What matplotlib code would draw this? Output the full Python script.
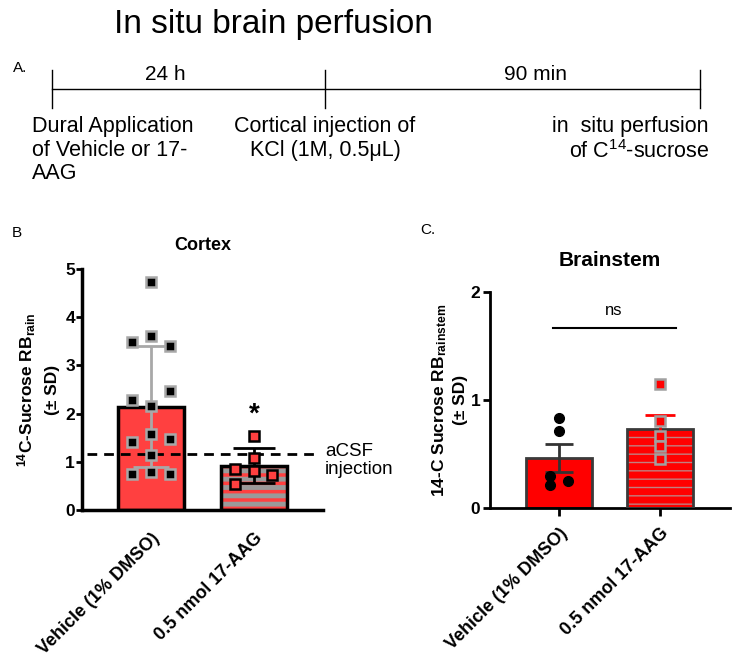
import matplotlib
matplotlib.use("Agg")
import matplotlib.pyplot as plt
import numpy as np

plt.rcParams['font.family'] = ['Liberation Sans', 'DejaVu Sans']
plt.rcParams['mathtext.default'] = 'regular'

# data
groups = ["Vehicle (1% DMSO)", "0.5 nmol 17-AAG"]

cortex_vehicle = [4.73, 3.48, 3.60, 3.40, 2.28, 2.47, 2.15, 1.41, 1.58, 1.48, 1.14, 0.75, 0.78, 0.75]
cortex_aag = [1.53, 1.08, 0.85, 0.80, 0.72, 0.54]
cortex_sd = [1.25, 0.36]
acsf_level = 1.16

brainstem_vehicle = [0.83, 0.71, 0.30, 0.21, 0.25]
brainstem_aag = [1.15, 0.81, 0.67, 0.57, 0.45]
brainstem_err = [0.13, 0.13]

W, H = 738, 658
fig = plt.figure(figsize=(W / 100, H / 100), dpi=100)


def frac(left, right, bottom, top):
    return [left / W, 1 - bottom / H, (right - left) / W, (bottom - top) / H]


# ---- panel A: timeline ----
ax0 = fig.add_axes([0, 0, 1, 1])
ax0.set_xlim(0, W)
ax0.set_ylim(H, 0)
ax0.axis('off')

ax0.text(114, 33, "In situ brain perfusion", fontsize=24, va='baseline', ha='left')
ax0.text(13, 68, "A.", fontsize=11, va='center')
ax0.plot([52, 700], [89, 89], color='black', lw=1)
for xt in [52, 325, 700]:
    ax0.plot([xt, xt], [70, 108], color='black', lw=1)
ax0.text(165, 75, "24 h", fontsize=15, ha='center', va='center')
ax0.text(536, 74, "90 min", fontsize=15, ha='center', va='center')
ax0.text(32, 116, "Dural Application\nof Vehicle or 17-\nAAG", fontsize=15.5,
         ha='left', va='top', linespacing=1.17)
ax0.text(325, 116, "Cortical injection of\nKCl (1M, 0.5μL)", fontsize=15.5,
         ha='center', va='top', linespacing=1.17, multialignment='center')
ax0.text(709, 116, "in  situ perfusion\nof C$^{14}$-sucrose", fontsize=15.5,
         ha='right', va='top', linespacing=1.17, multialignment='right')
ax0.text(12, 233, "B", fontsize=11, va='center')
ax0.text(420, 230, "C.", fontsize=11, va='center')

x = np.arange(len(groups))
bw = 0.65

# ---- panel B: cortex ----
ax1 = fig.add_axes(frac(82, 323, 510, 269))
c_means = [np.mean(cortex_vehicle), np.mean(cortex_aag)]
red1 = '#ff4040'
ax1.bar(x[0], c_means[0], bw, color=red1, edgecolor='black', linewidth=2.5, zorder=2)
with plt.rc_context({'hatch.linewidth': 3.5}):
    ax1.bar(x[1], c_means[1], bw, color=red1, edgecolor='#9a9a9a', hatch='--',
            linewidth=0, zorder=2)
ax1.bar(x[1], c_means[1], bw, fill=False, edgecolor='black', linewidth=2.5, zorder=3)

ax1.errorbar(x[0], c_means[0], yerr=cortex_sd[0], color='#a8a8a8', lw=2,
             capsize=13, capthick=2, zorder=4)
ax1.errorbar(x[1], c_means[1], yerr=cortex_sd[1], color='black', lw=2,
             capsize=15, capthick=2, zorder=4)

off_v = [0, -0.18, 0, 0.18, -0.18, 0.18, 0, -0.18, 0, 0.18, 0, -0.18, 0, 0.18]
ax1.plot(x[0] + np.array(off_v), cortex_vehicle, 's', ms=7.5, mfc='black',
         mec='#a8a8a8', mew=1.8, ls='none', zorder=5)
off_a = [0, 0, -0.18, 0, 0.17, -0.18]
ax1.plot(x[1] + np.array(off_a), cortex_aag, 's', ms=7.5, mfc=red1,
         mec='black', mew=1.8, ls='none', zorder=5)

ax1.plot([-0.62, 1.62], [acsf_level, acsf_level], '--', color='black', lw=2,
         dashes=(3.5, 2.5), zorder=3, clip_on=False)
ax1.text(1.69, acsf_level - 0.13, "aCSF\ninjection", fontsize=13.5, ha='left',
         va='center', linespacing=1.1)
ax1.text(x[1], c_means[1] + cortex_sd[1] + 0.42, "*", fontsize=20, fontweight='bold',
         ha='center', va='bottom')

ax1.set_xlim(-0.67, 1.67)
ax1.set_ylim(0, 5)
ax1.set_yticks([0, 1, 2, 3, 4, 5])
ax1.set_xticks(x)
ax1.set_xticklabels(groups, rotation=45, ha='right', rotation_mode='anchor',
                    fontweight='bold', fontsize=13)
ax1.tick_params(axis='x', direction='in', length=6, width=2, pad=14)
ax1.tick_params(axis='y', direction='out', length=4, width=2, labelsize=12.5, pad=1)
for lab in ax1.get_yticklabels():
    lab.set_fontweight('bold')
for s in ['top', 'right']:
    ax1.spines[s].set_visible(False)
for s in ['left', 'bottom']:
    ax1.spines[s].set_linewidth(2.5)
ax1.set_title("Cortex", fontweight='bold', fontsize=13, pad=14)
ax1.set_ylabel("$^{14}$C-Sucrose RB$_{rain}$\n(± SD)", fontweight='bold',
               fontsize=12.5, labelpad=4, linespacing=1.55)
ax1.set_facecolor('none')

# ---- panel C: brainstem ----
ax2 = fig.add_axes(frac(490, 730, 508, 292))
b_means = [np.mean(brainstem_vehicle), np.mean(brainstem_aag)]
edge2 = '#3a3a3a'
ax2.bar(x[0], b_means[0], bw, color='#ff0000', edgecolor=edge2, linewidth=2, zorder=2)
with plt.rc_context({'hatch.linewidth': 1.0}):
    ax2.bar(x[1], b_means[1], bw, color='#ff0000', edgecolor='#c08080', hatch='--',
            linewidth=0, zorder=2)
ax2.bar(x[1], b_means[1], bw, fill=False, edgecolor=edge2, linewidth=2, zorder=3)

ax2.errorbar(x[0], b_means[0], yerr=brainstem_err[0], color='#333333', lw=2,
             capsize=10, capthick=2, zorder=4)
ax2.errorbar(x[1], b_means[1], yerr=brainstem_err[1], color='#ff0000', lw=2,
             capsize=11, capthick=2, zorder=4)

off_bv = [0, 0, -0.09, -0.09, 0.09]
ax2.plot(x[0] + np.array(off_bv), brainstem_vehicle, 'o', ms=7, color='black',
         ls='none', zorder=5)
ax2.plot(np.full(len(brainstem_aag), x[1]), brainstem_aag, 's', ms=7, mfc='#ff0000',
         mec='#a0a0a0', mew=1.8, ls='none', zorder=5)

ax2.plot([-0.06, 1.16], [1.67, 1.67], color='black', lw=1.5)
ax2.text(0.54, 1.76, "ns", fontsize=12, ha='center', va='bottom')

ax2.set_xlim(-0.68, 1.69)
ax2.set_ylim(0, 2)
ax2.set_yticks([0, 1, 2])
ax2.set_xticks(x)
ax2.set_xticklabels(groups, rotation=45, ha='right', rotation_mode='anchor',
                    fontweight='bold', fontsize=13)
ax2.tick_params(axis='x', direction='out', length=6, width=2, pad=6)
ax2.tick_params(axis='y', direction='out', length=5, width=2, labelsize=12.5, pad=2)
for lab in ax2.get_yticklabels():
    lab.set_fontweight('bold')
for s in ['top', 'right']:
    ax2.spines[s].set_visible(False)
for s in ['left', 'bottom']:
    ax2.spines[s].set_linewidth(2)
ax2.set_title("Brainstem", fontweight='bold', fontsize=15, pad=19)
ax2.set_ylabel("14-C Sucrose RB$_{rainstem}$\n(± SD)", fontweight='bold',
               fontsize=12.5, labelpad=2, linespacing=1.3)
ax2.set_facecolor('none')

fig.savefig("out.png", dpi=100)
